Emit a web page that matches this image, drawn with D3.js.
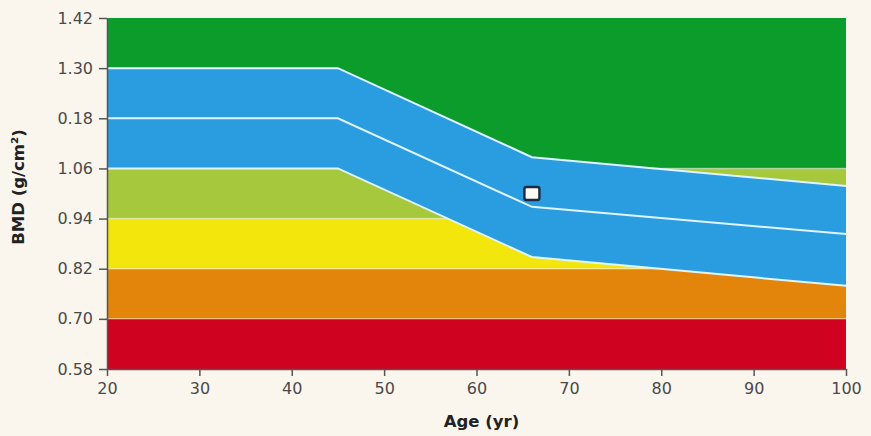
<!DOCTYPE html>
<html><head><meta charset="utf-8">
<script src="https://cdn.jsdelivr.net/npm/d3@7"></script>
<style>
html,body{margin:0;padding:0;background:#faf6ee;}
svg{display:block;}
text{font-family:"DejaVu Sans",sans-serif;}
</style></head>
<body>
<svg id="c" width="871" height="436"></svg>
<script>
// ---- data ----
const bandEdges = [0.58, 0.70, 0.82, 0.94, 1.06, 1.42];
const bandColors = ["#cf0220", "#e3850b", "#f2e60c", "#a6c83d", "#0c9c2c"];
const ages = [20, 45, 66, 100];
const upperEdge = [1.30, 1.30, 1.087, 1.018];
const middleLine = [1.18, 1.18, 0.968, 0.903];
const lowerEdge = [1.06, 1.06, 0.848, 0.779];
const yTickValues = [0.58, 0.70, 0.82, 0.94, 1.06, 1.18, 1.30, 1.42];
const yTickLabels = ["0.58", "0.70", "0.82", "0.94", "1.06", "0.18", "1.30", "1.42"];
const xTickValues = [20, 30, 40, 50, 60, 70, 80, 90, 100];
const patient = {age: 66, bmd: 1.00};

// ---- layout ----
const svg = d3.select("#c");
const m = {left: 107, right: 846, top: 18, bottom: 369};
const x = d3.scaleLinear().domain([20, 100]).range([m.left, m.right]);
const y = d3.scaleLinear().domain([0.58, 1.42]).range([m.bottom, m.top]);

const g = svg.append("g");
// flat background bands
for (let i = 0; i < bandColors.length; i++) {
  g.append("rect")
    .attr("x", x(20)).attr("width", x(100) - x(20))
    .attr("y", y(bandEdges[i + 1])).attr("height", y(bandEdges[i]) - y(bandEdges[i + 1]))
    .attr("fill", bandColors[i]);
}
// faint separators between bands
for (let i = 1; i < bandEdges.length - 1; i++) {
  g.append("line")
    .attr("x1", x(20)).attr("x2", x(100))
    .attr("y1", y(bandEdges[i])).attr("y2", y(bandEdges[i]))
    .attr("stroke", "#ffffff").attr("stroke-opacity", 0.4).attr("stroke-width", 1.5);
}
// blue reference band
const pts = ages.map((a, i) => ({a, lo: lowerEdge[i], mid: middleLine[i], hi: upperEdge[i]}));
const area = d3.area().x(d => x(d.a)).y0(d => y(d.lo)).y1(d => y(d.hi));
g.append("path").datum(pts).attr("d", area).attr("fill", "#2a9de1");
const lineOf = key => d3.line().x(d => x(d.a)).y(d => y(d[key]));
["lo", "mid", "hi"].forEach(k => {
  g.append("path").datum(pts).attr("d", lineOf(k))
    .attr("fill", "none").attr("stroke", "#dff4ff").attr("stroke-width", 2);
});

// patient marker
g.append("rect")
  .attr("x", x(patient.age) - 7.5).attr("y", y(patient.bmd) - 6.5)
  .attr("width", 15).attr("height", 13).attr("rx", 2)
  .attr("fill", "#fbf9f3").attr("stroke", "#1c2a44").attr("stroke-width", 2.4);

// axes
const yAxis = d3.axisLeft(y).tickValues(yTickValues)
  .tickFormat((d, i) => yTickLabels[i]).tickSize(8).tickSizeOuter(0);
const xAxis = d3.axisBottom(x).tickValues(xTickValues).tickSize(7).tickSizeOuter(0);

const ya = svg.append("g").attr("transform", `translate(${m.left},0)`).call(yAxis);
const xa = svg.append("g").attr("transform", `translate(0,${m.bottom})`).call(xAxis);
[ya, xa].forEach(a => {
  a.select(".domain").attr("stroke", "#555").attr("stroke-width", 1.5);
  a.selectAll(".tick line").attr("stroke", "#555").attr("stroke-width", 1.5);
  a.selectAll(".tick text").attr("fill", "#4a4a4a").style("font-size", "16px")
    .style("font-family", "'DejaVu Sans', sans-serif");
});
ya.selectAll(".tick text").attr("x", -14);
xa.selectAll(".tick text").attr("y", 14);

// axis titles
svg.append("text")
  .attr("transform", `translate(19,187) rotate(-90)`)
  .attr("text-anchor", "middle").attr("dominant-baseline", "middle")
  .style("font-size", "16.5px").style("font-weight", "bold").attr("fill", "#222")
  .text("BMD (g/cm²)");
svg.append("text")
  .attr("x", x(60) + 5).attr("y", 427)
  .attr("text-anchor", "middle")
  .style("font-size", "16.5px").style("font-weight", "bold").attr("fill", "#222")
  .text("Age (yr)");
</script>
</body></html>
